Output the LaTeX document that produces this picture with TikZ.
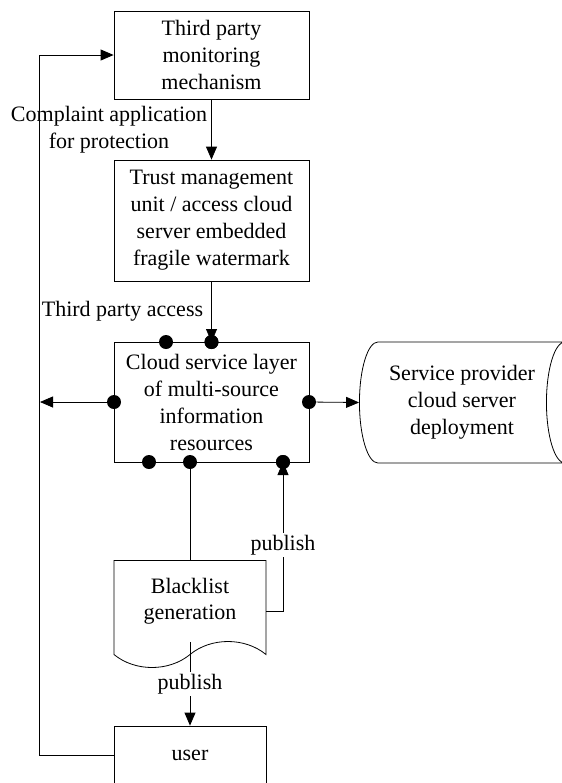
\documentclass[tikz,border=0pt]{standalone}
\usepackage{fontspec}
\setmainfont{Liberation Serif}
\usetikzlibrary{shapes, positioning, arrows.meta, calc}

\begin{document}
\begin{tikzpicture}[x=0.5pt, y=0.5pt, font=\fontsize{11}{13.5}\selectfont,
    box/.style={draw, align=center, minimum width=97.5pt, inner sep=0},
    port/.style={circle, fill=black, inner sep=0, minimum size=7pt},
    link/.style={-{Triangle[length=6.5pt, width=5.5pt]}}]
    \useasboundingbox (0,0) rectangle (562,-783);

    \node[box, minimum height=44pt] (monitor) at (211.5,-55) {Third party\\ monitoring\\ mechanism};
    \node[box, minimum height=60.5pt] (trust) at (211.5,-220.5) {Trust management\\ unit / access cloud\\ server embedded\\ fragile watermark};
    \node[box, minimum height=60pt] (cloud) at (211.5,-402) {Cloud service layer\\ of multi-source\\ information\\ resources};
    \node[draw, cylinder, align=center, shape aspect=0.5, minimum width=60.5pt, minimum height=112pt, inner sep=0] (provider) at (462,-402.5) {Service provider\\ cloud server\\ deployment};
    \node[draw, tape, tape bend top=none, tape bend bottom=in and out, tape bend height=13pt, align=center, minimum width=76pt, minimum height=53.5pt, inner sep=0, font=\fontsize{11}{13}\selectfont] (black) at (190,-601) {Blacklist\\ generation};
    \node[box, minimum width=76pt, minimum height=29.5pt] (user) at (190,-755.5) {user};

    % ports on the cloud service layer
    \node[port] (ptop1) at (166,-342) {};
    \node[port] (ptop2) at (211.5,-342) {};
    \node[port] (pleft) at (114,-402) {};
    \node[port] (pright) at (309,-402) {};
    \node[port] (pbot1) at (149,-462) {};
    \node[port] (pbot2) at (190,-462) {};
    \node[port] (pbot3) at (283,-462) {};
    \coordinate (lbus) at (40,-402);

    \draw[link] (monitor.south) -- (trust.north) node[midway, left, align=center, inner sep=2pt] {Complaint application\\ for protection};
    \draw[link] (trust.south) -- (ptop2.center) node[midway, left, inner sep=4pt] {Third party access};
    \draw[link] (pleft) -- (lbus);
    \draw[link] (pright) -- (provider.west);
    \draw (pbot2) -- (black.north);
    \draw[link] ([yshift=-5pt]black.east) -| (pbot3.center) node[pos=0.72, fill=white, inner sep=1pt] {publish};
    \draw[link] (black.south) -- (user.north) node[midway, fill=white, inner sep=1pt] {publish};
    \draw[link] (user.west) -- ++(-74,0) |- (monitor.west);

    % redraw the ports over the arrow tips
    \foreach \p in {ptop2, pbot3} \fill (\p) circle (3.5pt);
\end{tikzpicture}
\end{document}
